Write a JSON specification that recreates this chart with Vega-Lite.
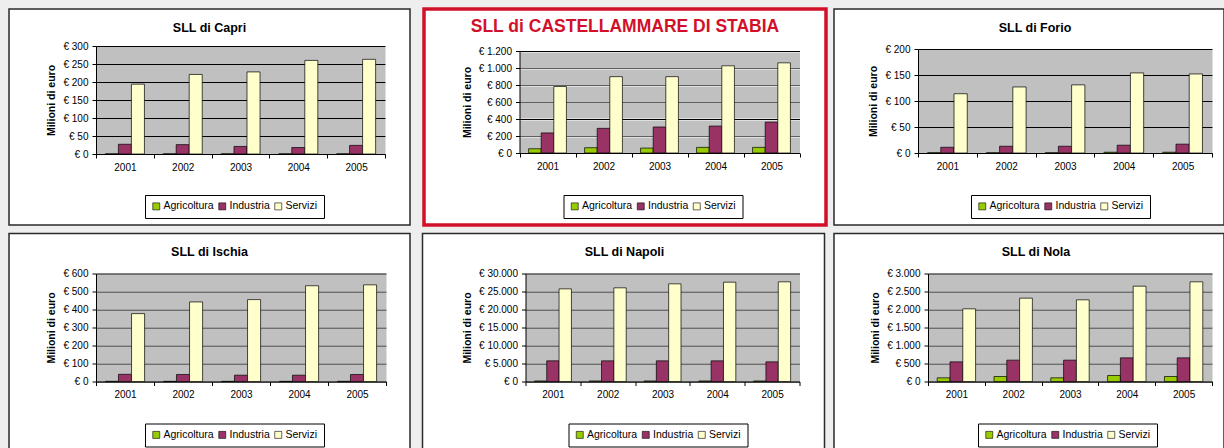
{
  "$schema": "https://vega.github.io/schema/vega-lite/v6.json",
  "background": "#eeeeee",
  "padding": {"left": 8, "top": 7, "right": 0, "bottom": 0},
  "datasets": {
    "d": [
      {"sll": "Capri", "year": "2001", "sector": "Agricoltura", "value": 0.5},
      {"sll": "Capri", "year": "2002", "sector": "Agricoltura", "value": 0.5},
      {"sll": "Capri", "year": "2003", "sector": "Agricoltura", "value": 0.5},
      {"sll": "Capri", "year": "2004", "sector": "Agricoltura", "value": 0.5},
      {"sll": "Capri", "year": "2005", "sector": "Agricoltura", "value": 0.5},
      {"sll": "Capri", "year": "2001", "sector": "Industria", "value": 27},
      {"sll": "Capri", "year": "2002", "sector": "Industria", "value": 26},
      {"sll": "Capri", "year": "2003", "sector": "Industria", "value": 21},
      {"sll": "Capri", "year": "2004", "sector": "Industria", "value": 18},
      {"sll": "Capri", "year": "2005", "sector": "Industria", "value": 24},
      {"sll": "Capri", "year": "2001", "sector": "Servizi", "value": 194},
      {"sll": "Capri", "year": "2002", "sector": "Servizi", "value": 221},
      {"sll": "Capri", "year": "2003", "sector": "Servizi", "value": 228},
      {"sll": "Capri", "year": "2004", "sector": "Servizi", "value": 260},
      {"sll": "Capri", "year": "2005", "sector": "Servizi", "value": 263},
      {"sll": "Castellammare", "year": "2001", "sector": "Agricoltura", "value": 50},
      {"sll": "Castellammare", "year": "2002", "sector": "Agricoltura", "value": 62},
      {"sll": "Castellammare", "year": "2003", "sector": "Agricoltura", "value": 58},
      {"sll": "Castellammare", "year": "2004", "sector": "Agricoltura", "value": 66},
      {"sll": "Castellammare", "year": "2005", "sector": "Agricoltura", "value": 66},
      {"sll": "Castellammare", "year": "2001", "sector": "Industria", "value": 236},
      {"sll": "Castellammare", "year": "2002", "sector": "Industria", "value": 290},
      {"sll": "Castellammare", "year": "2003", "sector": "Industria", "value": 306},
      {"sll": "Castellammare", "year": "2004", "sector": "Industria", "value": 317},
      {"sll": "Castellammare", "year": "2005", "sector": "Industria", "value": 364},
      {"sll": "Castellammare", "year": "2001", "sector": "Servizi", "value": 782},
      {"sll": "Castellammare", "year": "2002", "sector": "Servizi", "value": 898},
      {"sll": "Castellammare", "year": "2003", "sector": "Servizi", "value": 898},
      {"sll": "Castellammare", "year": "2004", "sector": "Servizi", "value": 1026},
      {"sll": "Castellammare", "year": "2005", "sector": "Servizi", "value": 1061},
      {"sll": "Forio", "year": "2001", "sector": "Agricoltura", "value": 0.5},
      {"sll": "Forio", "year": "2002", "sector": "Agricoltura", "value": 0.5},
      {"sll": "Forio", "year": "2003", "sector": "Agricoltura", "value": 0.5},
      {"sll": "Forio", "year": "2004", "sector": "Agricoltura", "value": 1.5},
      {"sll": "Forio", "year": "2005", "sector": "Agricoltura", "value": 1.5},
      {"sll": "Forio", "year": "2001", "sector": "Industria", "value": 11},
      {"sll": "Forio", "year": "2002", "sector": "Industria", "value": 13},
      {"sll": "Forio", "year": "2003", "sector": "Industria", "value": 13},
      {"sll": "Forio", "year": "2004", "sector": "Industria", "value": 15},
      {"sll": "Forio", "year": "2005", "sector": "Industria", "value": 17},
      {"sll": "Forio", "year": "2001", "sector": "Servizi", "value": 114},
      {"sll": "Forio", "year": "2002", "sector": "Servizi", "value": 127},
      {"sll": "Forio", "year": "2003", "sector": "Servizi", "value": 131},
      {"sll": "Forio", "year": "2004", "sector": "Servizi", "value": 154},
      {"sll": "Forio", "year": "2005", "sector": "Servizi", "value": 152},
      {"sll": "Ischia", "year": "2001", "sector": "Agricoltura", "value": 1},
      {"sll": "Ischia", "year": "2002", "sector": "Agricoltura", "value": 1},
      {"sll": "Ischia", "year": "2003", "sector": "Agricoltura", "value": 1},
      {"sll": "Ischia", "year": "2004", "sector": "Agricoltura", "value": 1},
      {"sll": "Ischia", "year": "2005", "sector": "Agricoltura", "value": 1},
      {"sll": "Ischia", "year": "2001", "sector": "Industria", "value": 40},
      {"sll": "Ischia", "year": "2002", "sector": "Industria", "value": 39},
      {"sll": "Ischia", "year": "2003", "sector": "Industria", "value": 35},
      {"sll": "Ischia", "year": "2004", "sector": "Industria", "value": 35},
      {"sll": "Ischia", "year": "2005", "sector": "Industria", "value": 39},
      {"sll": "Ischia", "year": "2001", "sector": "Servizi", "value": 377},
      {"sll": "Ischia", "year": "2002", "sector": "Servizi", "value": 442},
      {"sll": "Ischia", "year": "2003", "sector": "Servizi", "value": 455},
      {"sll": "Ischia", "year": "2004", "sector": "Servizi", "value": 532},
      {"sll": "Ischia", "year": "2005", "sector": "Servizi", "value": 537},
      {"sll": "Napoli", "year": "2001", "sector": "Agricoltura", "value": 150},
      {"sll": "Napoli", "year": "2002", "sector": "Agricoltura", "value": 150},
      {"sll": "Napoli", "year": "2003", "sector": "Agricoltura", "value": 150},
      {"sll": "Napoli", "year": "2004", "sector": "Agricoltura", "value": 150},
      {"sll": "Napoli", "year": "2005", "sector": "Agricoltura", "value": 150},
      {"sll": "Napoli", "year": "2001", "sector": "Industria", "value": 5740},
      {"sll": "Napoli", "year": "2002", "sector": "Industria", "value": 5740},
      {"sll": "Napoli", "year": "2003", "sector": "Industria", "value": 5740},
      {"sll": "Napoli", "year": "2004", "sector": "Industria", "value": 5740},
      {"sll": "Napoli", "year": "2005", "sector": "Industria", "value": 5460},
      {"sll": "Napoli", "year": "2001", "sector": "Servizi", "value": 25740},
      {"sll": "Napoli", "year": "2002", "sector": "Servizi", "value": 26020},
      {"sll": "Napoli", "year": "2003", "sector": "Servizi", "value": 27130},
      {"sll": "Napoli", "year": "2004", "sector": "Servizi", "value": 27590},
      {"sll": "Napoli", "year": "2005", "sector": "Servizi", "value": 27690},
      {"sll": "Nola", "year": "2001", "sector": "Agricoltura", "value": 102},
      {"sll": "Nola", "year": "2002", "sector": "Agricoltura", "value": 139},
      {"sll": "Nola", "year": "2003", "sector": "Agricoltura", "value": 102},
      {"sll": "Nola", "year": "2004", "sector": "Agricoltura", "value": 167},
      {"sll": "Nola", "year": "2005", "sector": "Agricoltura", "value": 139},
      {"sll": "Nola", "year": "2001", "sector": "Industria", "value": 546},
      {"sll": "Nola", "year": "2002", "sector": "Industria", "value": 593},
      {"sll": "Nola", "year": "2003", "sector": "Industria", "value": 593},
      {"sll": "Nola", "year": "2004", "sector": "Industria", "value": 657},
      {"sll": "Nola", "year": "2005", "sector": "Industria", "value": 657},
      {"sll": "Nola", "year": "2001", "sector": "Servizi", "value": 2019},
      {"sll": "Nola", "year": "2002", "sector": "Servizi", "value": 2315},
      {"sll": "Nola", "year": "2003", "sector": "Servizi", "value": 2269},
      {"sll": "Nola", "year": "2004", "sector": "Servizi", "value": 2648},
      {"sll": "Nola", "year": "2005", "sector": "Servizi", "value": 2769}
    ]
  },
  "data": {"name": "d"},
  "resolve": {"scale": {"color": "independent", "xOffset": "independent"}, "legend": {"color": "independent"}},
  "spacing": 5.5,
  "vconcat": [
    {
      "spacing": 11,
      "resolve": {"scale": {"color": "independent", "xOffset": "independent"}, "legend": {"color": "independent"}},
      "hconcat": [
        {
          "width": 401, "height": 216,
          "view": {"fill": "white", "stroke": "#2a2a2a", "strokeWidth": 1.5},
          "title": {"text": "SLL di Capri"},
          "transform": [{"filter": "datum.sll === 'Capri'"}],
          "mark": {"type": "bar", "stroke": "black", "strokeWidth": 0.7},
          "encoding": {
            "x": {"field": "year", "type": "nominal", "scale": {"range": [87, 376], "paddingInner": 0, "paddingOuter": 0}, "axis": {"offset": -71, "title": null}},
            "xOffset": {"field": "sector", "scale": {"domain": ["Agricoltura", "Industria", "Servizi"], "paddingOuter": 0.72, "paddingInner": 0}},
            "y": {"field": "value", "type": "quantitative", "scale": {"domain": [0, 300], "range": [145, 37], "nice": false},
                  "axis": {"offset": -87, "values": [0, 25, 50, 75, 100, 125, 150, 175, 200, 225, 250, 275, 300], "title": "Milioni di euro", "format": "$,.0f",
                           "labelExpr": "datum.value % 50 !== 0 ? '' : datum.label",
                           "gridColor": {"condition": {"test": "datum.value % 50 !== 0", "value": "#c0c0c0"}, "value": "black"},
                           "gridWidth": {"condition": {"test": "datum.value % 50 !== 0", "value": 17}, "value": 1},
                           "tickOpacity": {"condition": {"test": "datum.value % 50 !== 0", "value": 0}, "value": 1}}},
            "color": {"field": "sector", "type": "nominal", "scale": {"domain": ["Agricoltura", "Industria", "Servizi"], "range": ["#99cc00", "#993366", "#ffffcc"]}, "legend": {"orient": "none", "legendX": 136, "legendY": 186, "title": null}}
          }
        },
        {
          "spacing": 5,
          "resolve": {"scale": {"color": "independent", "xOffset": "independent"}, "legend": {"color": "independent"}},
          "hconcat": [
            {
              "width": 402, "height": 216,
              "view": {"fill": "white", "stroke": "#d2102a", "strokeWidth": 3.5},
              "title": {"text": "SLL di CASTELLAMMARE DI STABIA", "fontSize": 17.5, "color": "#d2102a", "offset": -26},
              "transform": [{"filter": "datum.sll === 'Castellammare'"}],
              "mark": {"type": "bar", "stroke": "black", "strokeWidth": 0.7},
              "encoding": {
                "x": {"field": "year", "type": "nominal", "scale": {"range": [95.5, 375.5], "paddingInner": 0, "paddingOuter": 0}, "axis": {"offset": -72, "title": null}},
                "xOffset": {"field": "sector", "scale": {"domain": ["Agricoltura", "Industria", "Servizi"], "paddingOuter": 0.72, "paddingInner": 0}},
                "y": {"field": "value", "type": "quantitative", "scale": {"domain": [0, 1200], "range": [144, 42], "nice": false},
                      "axis": {"offset": -95.5, "values": [0, 100, 200, 300, 400, 500, 600, 700, 800, 900, 1000, 1100, 1200], "title": "Milioni di euro", "format": "$,.0f",
                               "labelExpr": "datum.value % 200 !== 0 ? '' : datum.label",
                               "gridColor": {"condition": {"test": "datum.value % 200 !== 0", "value": "#c0c0c0"}, "value": "black"},
                               "gridWidth": {"condition": {"test": "datum.value % 200 !== 0", "value": 16}, "value": 1},
                               "tickOpacity": {"condition": {"test": "datum.value % 200 !== 0", "value": 0}, "value": 1}}},
                "color": {"field": "sector", "type": "nominal", "scale": {"domain": ["Agricoltura", "Industria", "Servizi"], "range": ["#99cc00", "#993366", "#ffffcc"]}, "legend": {"orient": "none", "legendX": 139.5, "legendY": 186, "title": null}}
              }
            },
            {
              "width": 390, "height": 216,
              "view": {"fill": "white", "stroke": "#2a2a2a", "strokeWidth": 1.5},
              "title": {"text": "SLL di Forio", "dx": 6},
              "transform": [{"filter": "datum.sll === 'Forio'"}],
              "mark": {"type": "bar", "stroke": "black", "strokeWidth": 0.7},
              "encoding": {
                "x": {"field": "year", "type": "nominal", "scale": {"range": [84, 378], "paddingInner": 0, "paddingOuter": 0}, "axis": {"offset": -72, "title": null}},
                "xOffset": {"field": "sector", "scale": {"domain": ["Agricoltura", "Industria", "Servizi"], "paddingOuter": 0.72, "paddingInner": 0}},
                "y": {"field": "value", "type": "quantitative", "scale": {"domain": [0, 200], "range": [144, 40], "nice": false},
                      "axis": {"offset": -84, "values": [0, 25, 50, 75, 100, 125, 150, 175, 200], "title": "Milioni di euro", "format": "$,.0f",
                               "labelExpr": "datum.value % 50 !== 0 ? '' : datum.label",
                               "gridColor": {"condition": {"test": "datum.value % 50 !== 0", "value": "#c0c0c0"}, "value": "black"},
                               "gridWidth": {"condition": {"test": "datum.value % 50 !== 0", "value": 25}, "value": 1},
                               "tickOpacity": {"condition": {"test": "datum.value % 50 !== 0", "value": 0}, "value": 1}}},
                "color": {"field": "sector", "type": "nominal", "scale": {"domain": ["Agricoltura", "Industria", "Servizi"], "range": ["#99cc00", "#993366", "#ffffcc"]}, "legend": {"orient": "none", "legendX": 137, "legendY": 186, "title": null}}
              }
            }
          ]
        }
      ]
    },
    {
      "spacing": 10.5,
      "resolve": {"scale": {"color": "independent", "xOffset": "independent"}, "legend": {"color": "independent"}},
      "hconcat": [
        {
          "width": 401, "height": 222,
          "view": {"fill": "white", "stroke": "#2a2a2a", "strokeWidth": 1.5},
          "title": {"text": "SLL di Ischia"},
          "transform": [{"filter": "datum.sll === 'Ischia'"}],
          "mark": {"type": "bar", "stroke": "black", "strokeWidth": 0.7},
          "encoding": {
            "x": {"field": "year", "type": "nominal", "scale": {"range": [87, 377], "paddingInner": 0, "paddingOuter": 0}, "axis": {"offset": -74, "title": null}},
            "xOffset": {"field": "sector", "scale": {"domain": ["Agricoltura", "Industria", "Servizi"], "paddingOuter": 0.72, "paddingInner": 0}},
            "y": {"field": "value", "type": "quantitative", "scale": {"domain": [0, 600], "range": [148, 40], "nice": false},
                  "axis": {"offset": -87, "values": [0, 50, 100, 150, 200, 250, 300, 350, 400, 450, 500, 550, 600], "title": "Milioni di euro", "format": "$,.0f",
                           "labelExpr": "datum.value % 100 !== 0 ? '' : datum.label",
                           "gridColor": {"condition": {"test": "datum.value % 100 !== 0", "value": "#c0c0c0"}, "value": "black"},
                           "gridWidth": {"condition": {"test": "datum.value % 100 !== 0", "value": 17}, "value": 1},
                           "tickOpacity": {"condition": {"test": "datum.value % 100 !== 0", "value": 0}, "value": 1}}},
            "color": {"field": "sector", "type": "nominal", "scale": {"domain": ["Agricoltura", "Industria", "Servizi"], "range": ["#99cc00", "#993366", "#ffffcc"]}, "legend": {"orient": "none", "legendX": 136, "legendY": 190, "title": null}}
          }
        },
        {
          "spacing": 7.5,
          "resolve": {"scale": {"color": "independent", "xOffset": "independent"}, "legend": {"color": "independent"}},
          "hconcat": [
            {
              "width": 402, "height": 222,
              "view": {"fill": "white", "stroke": "#2a2a2a", "strokeWidth": 1.5},
              "title": {"text": "SLL di Napoli", "dx": 1},
              "transform": [{"filter": "datum.sll === 'Napoli'"}],
              "mark": {"type": "bar", "stroke": "black", "strokeWidth": 0.7},
              "encoding": {
                "x": {"field": "year", "type": "nominal", "scale": {"range": [103, 377], "paddingInner": 0, "paddingOuter": 0}, "axis": {"offset": -74, "title": null}},
                "xOffset": {"field": "sector", "scale": {"domain": ["Agricoltura", "Industria", "Servizi"], "paddingOuter": 0.72, "paddingInner": 0}},
                "y": {"field": "value", "type": "quantitative", "scale": {"domain": [0, 30000], "range": [148, 40], "nice": false},
                      "axis": {"offset": -103, "values": [0, 2500, 5000, 7500, 10000, 12500, 15000, 17500, 20000, 22500, 25000, 27500, 30000], "title": "Milioni di euro", "format": "$,.0f",
                               "labelExpr": "datum.value % 5000 !== 0 ? '' : datum.label",
                               "gridColor": {"condition": {"test": "datum.value % 5000 !== 0", "value": "#c0c0c0"}, "value": "black"},
                               "gridWidth": {"condition": {"test": "datum.value % 5000 !== 0", "value": 17}, "value": 1},
                               "tickOpacity": {"condition": {"test": "datum.value % 5000 !== 0", "value": 0}, "value": 1}}},
                "color": {"field": "sector", "type": "nominal", "scale": {"domain": ["Agricoltura", "Industria", "Servizi"], "range": ["#99cc00", "#993366", "#ffffcc"]}, "legend": {"orient": "none", "legendX": 146, "legendY": 190, "title": null}}
              }
            },
            {
              "width": 390, "height": 222,
              "view": {"fill": "white", "stroke": "#2a2a2a", "strokeWidth": 1.5},
              "title": {"text": "SLL di Nola", "dx": 7},
              "transform": [{"filter": "datum.sll === 'Nola'"}],
              "mark": {"type": "bar", "stroke": "black", "strokeWidth": 0.7},
              "encoding": {
                "x": {"field": "year", "type": "nominal", "scale": {"range": [94, 378], "paddingInner": 0, "paddingOuter": 0}, "axis": {"offset": -74, "title": null}},
                "xOffset": {"field": "sector", "scale": {"domain": ["Agricoltura", "Industria", "Servizi"], "paddingOuter": 0.72, "paddingInner": 0}},
                "y": {"field": "value", "type": "quantitative", "scale": {"domain": [0, 3000], "range": [148, 40], "nice": false},
                      "axis": {"offset": -94, "values": [0, 250, 500, 750, 1000, 1250, 1500, 1750, 2000, 2250, 2500, 2750, 3000], "title": "Milioni di euro", "format": "$,.0f",
                               "labelExpr": "datum.value % 500 !== 0 ? '' : datum.label",
                               "gridColor": {"condition": {"test": "datum.value % 500 !== 0", "value": "#c0c0c0"}, "value": "black"},
                               "gridWidth": {"condition": {"test": "datum.value % 500 !== 0", "value": 17}, "value": 1},
                               "tickOpacity": {"condition": {"test": "datum.value % 500 !== 0", "value": 0}, "value": 1}}},
                "color": {"field": "sector", "type": "nominal", "scale": {"domain": ["Agricoltura", "Industria", "Servizi"], "range": ["#99cc00", "#993366", "#ffffcc"]}, "legend": {"orient": "none", "legendX": 144, "legendY": 190, "title": null}}
              }
            }
          ]
        }
      ]
    }
  ],
  "config": {
    "locale": {"number": {"decimal": ",", "thousands": ".", "grouping": [3], "currency": ["€ ", ""]}},
    "font": "Liberation Sans",
    "title": {"font": "Liberation Sans", "fontSize": 12.5, "fontWeight": "bold", "color": "black", "baseline": "alphabetic", "frame": "group", "anchor": "middle", "offset": -25},
    "axis": {"domainColor": "black", "tickColor": "black", "labelColor": "black", "labelFont": "Liberation Sans", "labelFontSize": 10, "tickSize": 4, "titleColor": "black", "titleFont": "Liberation Sans"},
    "axisX": {"labelPadding": 4, "tickBand": "extent", "labelAngle": 0, "grid": false},
    "axisY": {"grid": true, "gridOpacity": 1, "labelPadding": 4, "labelOverlap": false, "titleFontSize": 10.5, "titleFontWeight": "bold", "titlePadding": 6},
    "legend": {"direction": "horizontal", "strokeColor": "black", "fillColor": "white", "padding": 6, "symbolType": "square", "symbolSize": 49, "symbolStrokeColor": "black", "symbolStrokeWidth": 0.6, "symbolOpacity": 1, "labelFont": "Liberation Sans", "labelFontSize": 10.5, "labelColor": "black", "columnPadding": 3, "labelOffset": 2}
  }
}
